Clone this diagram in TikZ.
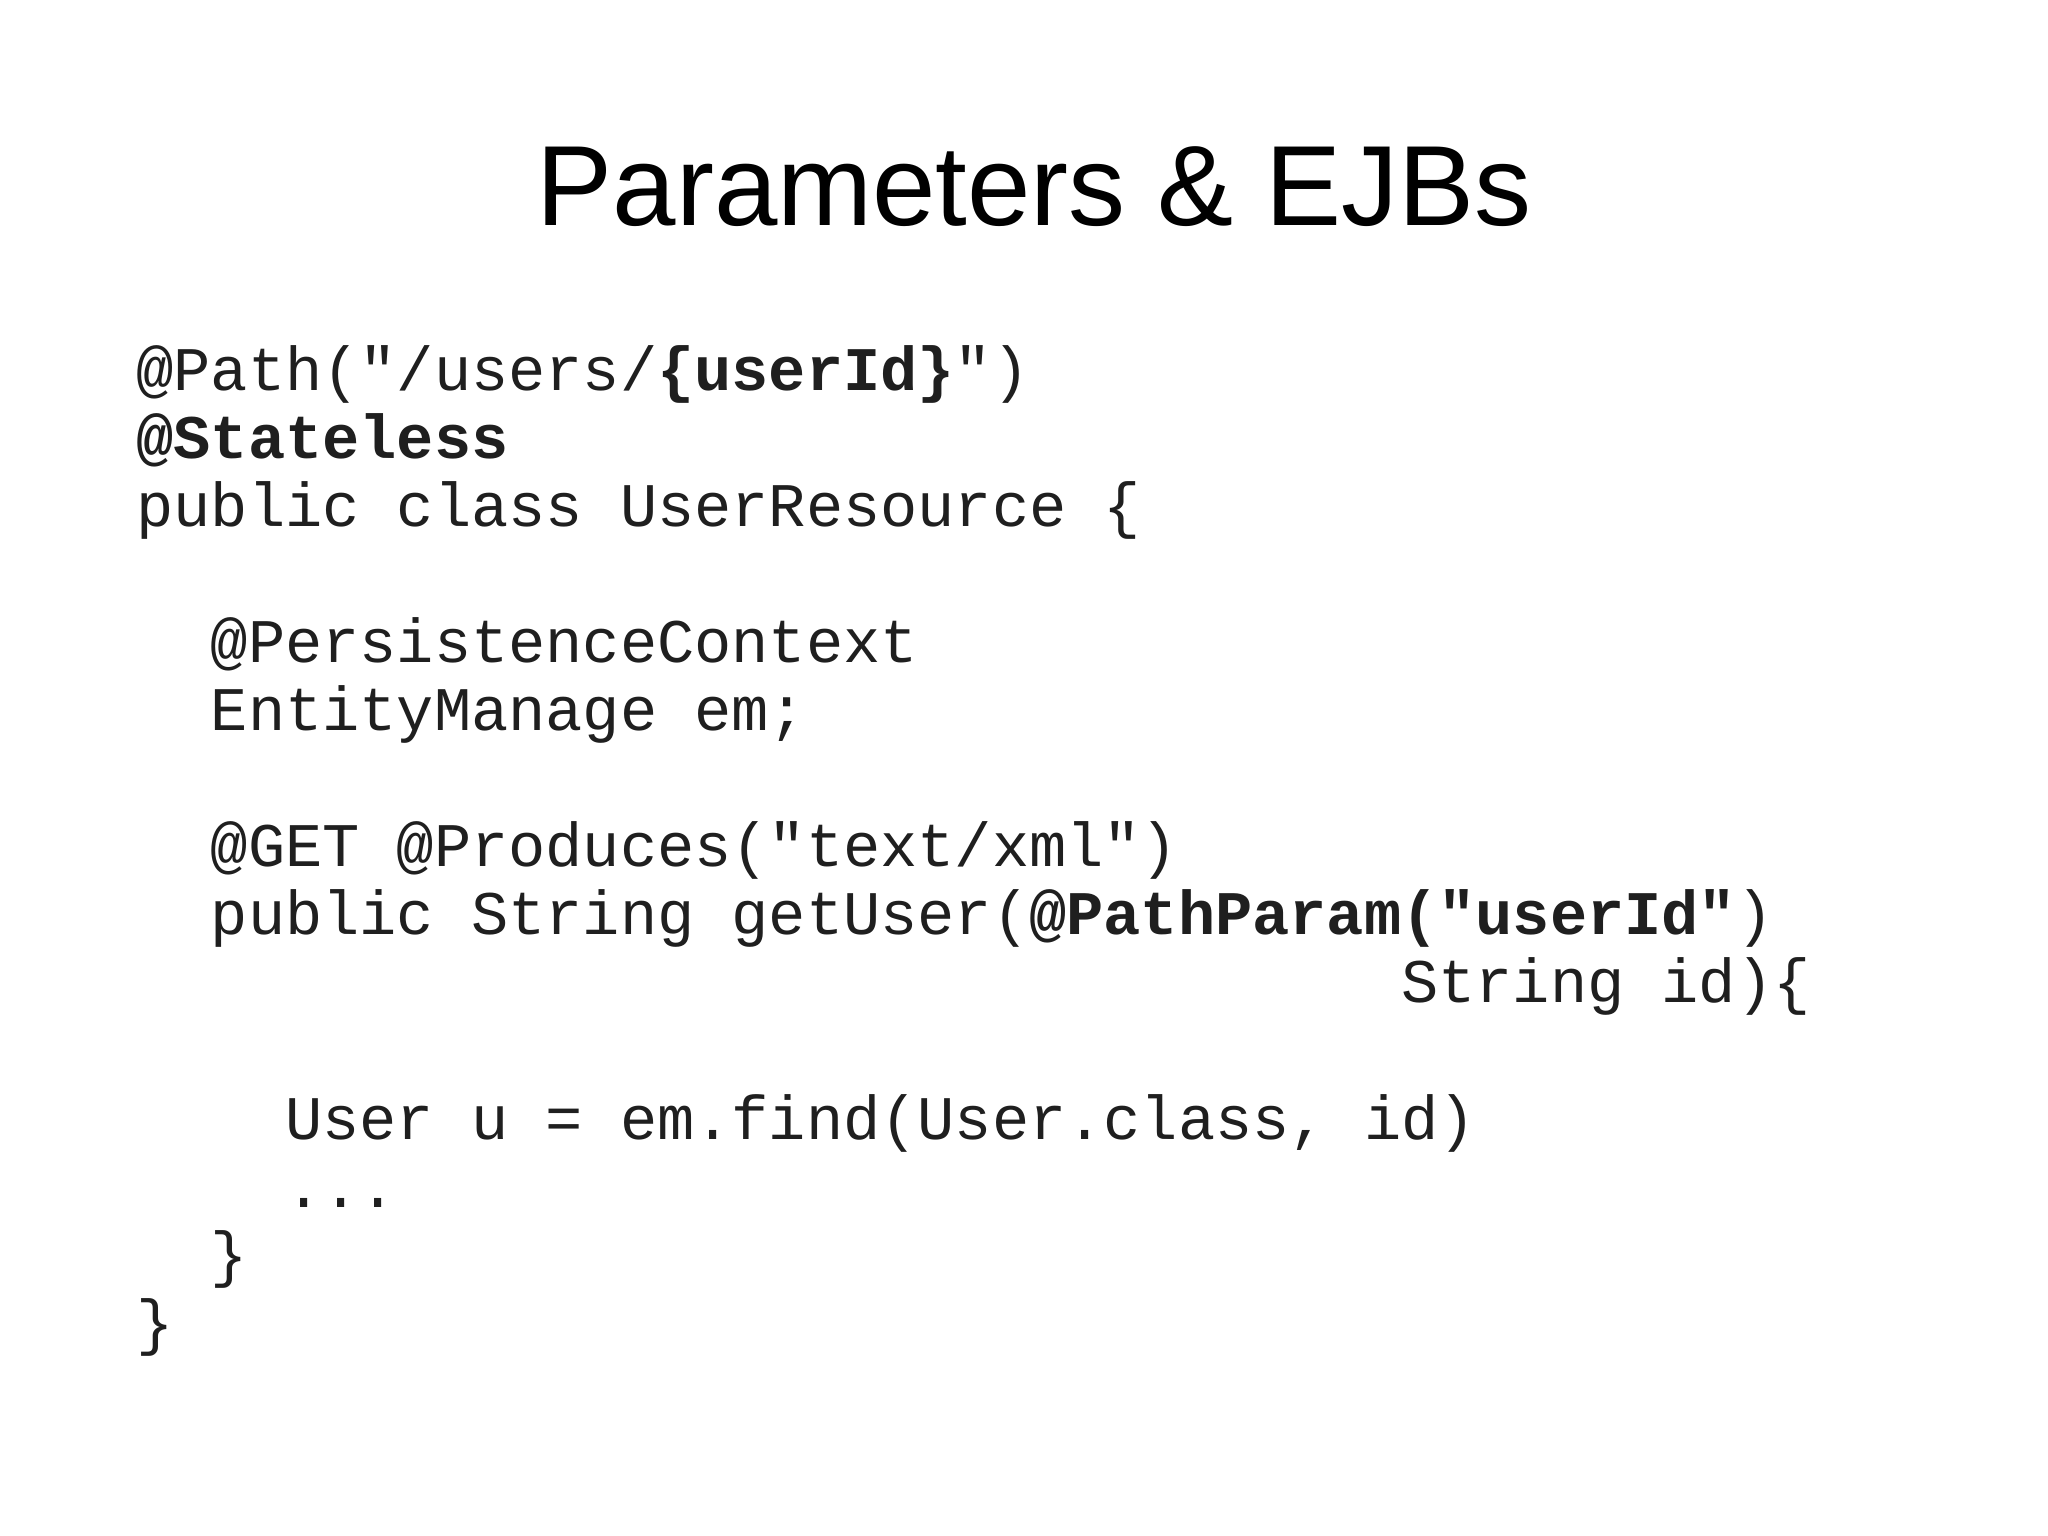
\documentclass[tikz,border=0pt]{standalone}
\usepackage{fontspec}
\setmainfont{Liberation Sans}
\newfontfamily\codef{Liberation Mono}
\begin{document}
\begin{tikzpicture}[x=1pt,y=1pt,
  ln/.style={anchor=base west,inner sep=0pt,font=\codef\fontsize{31}{34}\selectfont,text=black!88}]
\useasboundingbox (0,0) rectangle (1024,-767.5);
\fill[white] (0,0) rectangle (1024,-767.5);
\node[anchor=base,inner sep=0pt,font=\fontsize{57}{60}\selectfont] (title) at (517,-113) {Parameters \& EJBs};
\def\cw{18.6}
\def\lh{34.05}
\def\yz{-195}
\node[ln] (l1) at (68,\yz) {@Path("/users/\textbf{\{userId\}}")};
\node[ln] (l2) at (68,\yz-\lh) {\textbf{@Stateless}};
\node[ln] (l3) at (68,\yz-2*\lh) {public class UserResource \{};
\node[ln] (l5) at (68+2*\cw,\yz-4*\lh) {@PersistenceContext};
\node[ln] (l6) at (68+2*\cw,\yz-5*\lh) {EntityManage em;};
\node[ln] (l8) at (68+2*\cw,\yz-7*\lh) {@GET @Produces("text/xml")};
\node[ln] (l9) at (68+2*\cw,\yz-8*\lh) {public String getUser(\textbf{@PathParam("userId"})};
\node[ln] (l10) at (68+34*\cw,\yz-9*\lh) {String id)\{};
\node[ln] (l12) at (68+4*\cw,\yz-11*\lh) {User u = em.find(User.class, id)};
\node[ln] (l13) at (68+4*\cw,\yz-12*\lh) {...};
\node[ln] (l14) at (68+2*\cw,\yz-13*\lh) {\}};
\node[ln] (l15) at (68,\yz-14*\lh) {\}};
\end{tikzpicture}
\end{document}
